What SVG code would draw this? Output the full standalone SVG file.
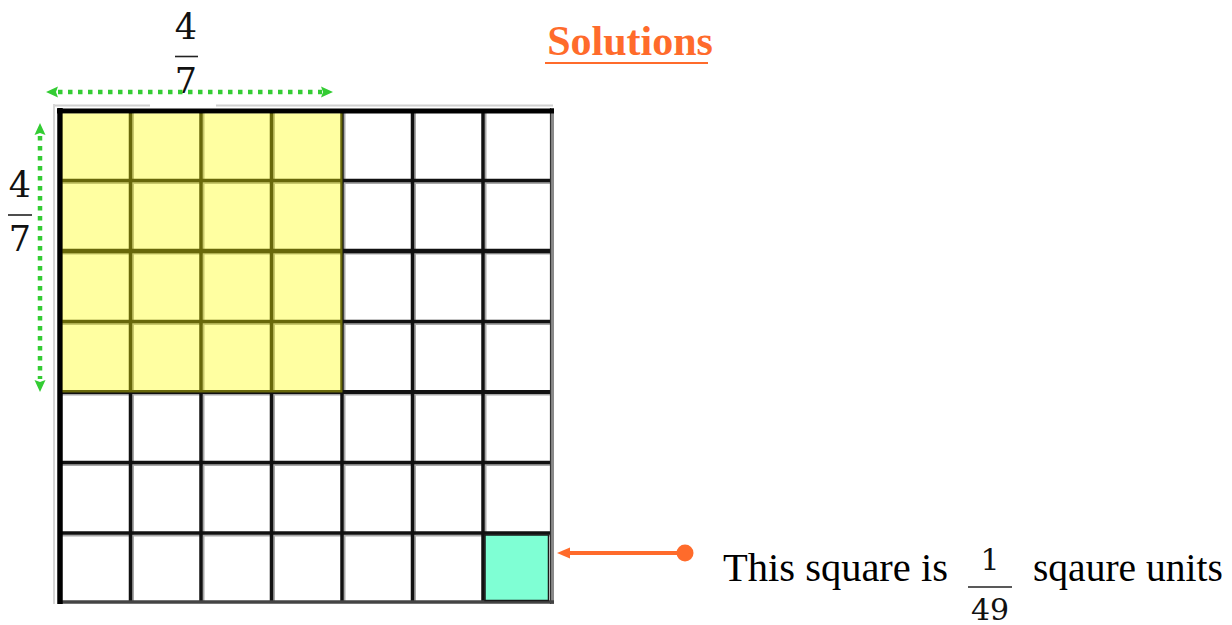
<svg xmlns="http://www.w3.org/2000/svg" width="1232" height="625" viewBox="0 0 1232 625">
  <defs>
    <style>
      .grid { stroke: #111; stroke-width: 3.5; fill: none; }
      .shadow { stroke: #a8a8a8; stroke-width: 2; fill: none; }
      .frac { font-family: "DejaVu Serif", "Liberation Serif", serif; fill: #111; text-anchor: middle; }
      .bar { stroke: #222; stroke-width: 1.6; }
      .txt { font-family: "Liberation Serif", "Times New Roman", serif; font-size: 40.5px; fill: #000; }
      .dim { stroke: #33cc33; stroke-width: 4.5; stroke-dasharray: 4.5 5.5; fill: none; }
      .dimhead { fill: #33cc33; }
      .orange { stroke: #ff6b2b; stroke-width: 4; fill: none; }
    </style>
  </defs>
  <rect width="1232" height="625" fill="#ffffff"/>

  <g id="grid">
    <!-- faint scan artifacts -->
    <line x1="54" y1="104" x2="54" y2="604" stroke="#d6d6d6" stroke-width="2"/>
    <line x1="55" y1="105.5" x2="150" y2="105.5" stroke="#d0d0d0" stroke-width="2"/>
    <line x1="216" y1="105.5" x2="553" y2="105.5" stroke="#d0d0d0" stroke-width="2"/>
    <!-- shadows -->
    <g class="shadow">
      <line x1="133" y1="112" x2="133" y2="603"/>
      <line x1="203.5" y1="112" x2="203.5" y2="603"/>
      <line x1="274" y1="112" x2="274" y2="603"/>
      <line x1="344.5" y1="112" x2="344.5" y2="603"/>
      <line x1="415" y1="112" x2="415" y2="603"/>
      <line x1="485.5" y1="112" x2="485.5" y2="603"/>
      <line x1="62" y1="183" x2="552" y2="183"/>
      <line x1="62" y1="253.5" x2="552" y2="253.5"/>
      <line x1="62" y1="324" x2="552" y2="324"/>
      <line x1="62" y1="394.5" x2="552" y2="394.5"/>
      <line x1="62" y1="465" x2="552" y2="465"/>
      <line x1="62" y1="535.5" x2="552" y2="535.5"/>
    </g>
    <g class="grid">
      <line x1="130.5" y1="110" x2="130.5" y2="603"/>
      <line x1="201" y1="110" x2="201" y2="603"/>
      <line x1="271.5" y1="110" x2="271.5" y2="603"/>
      <line x1="342" y1="110" x2="342" y2="603"/>
      <line x1="412.5" y1="110" x2="412.5" y2="603"/>
      <line x1="483" y1="110" x2="483" y2="603"/>
      <line x1="60" y1="180.5" x2="552" y2="180.5"/>
      <line x1="60" y1="251" x2="552" y2="251" stroke-width="4.5"/>
      <line x1="60" y1="321.5" x2="552" y2="321.5"/>
      <line x1="60" y1="392" x2="552" y2="392" stroke-width="4"/>
      <line x1="60" y1="462.5" x2="552" y2="462.5"/>
      <line x1="60" y1="533" x2="552" y2="533"/>
    </g>
    <!-- outer frame -->
    <line x1="552" y1="108" x2="552" y2="604" stroke="#8a8a8a" stroke-width="4"/>
    <line x1="550.5" y1="108" x2="550.5" y2="604" stroke="#333" stroke-width="1.2"/>
    <line x1="58" y1="602" x2="554" y2="602" stroke="#444" stroke-width="3.5"/>
    <line x1="57" y1="111" x2="554" y2="111" stroke="#000" stroke-width="5"/>
    <line x1="60" y1="108" x2="60" y2="604" stroke="#000" stroke-width="5.5"/>
  </g>

  <g id="shaded-region">
    <rect x="62.5" y="113.5" width="280" height="279" fill="#ffff00" fill-opacity="0.37"/>
  </g>

  <g id="unit-square">
    <rect x="485" y="535" width="63.5" height="65.5" fill="#7fffd4" stroke="#1a1a1a" stroke-width="1.5"/>
  </g>

  <g id="title">
    <text x="630" y="55" text-anchor="middle" font-family="Liberation Serif, Times New Roman, serif" font-weight="bold" font-size="42" fill="#ff6b2b">Solutions</text>
    <line x1="545" y1="63" x2="708" y2="63" stroke="#ff6b2b" stroke-width="2.2"/>
  </g>

  <g id="top-fraction">
    <text class="frac" x="186" y="39" font-size="35">4</text>
    <line class="bar" x1="175" y1="56.5" x2="198" y2="56.5"/>
    <text class="frac" x="186" y="93" font-size="35">7</text>
  </g>

  <g id="left-fraction">
    <text class="frac" x="20" y="197" font-size="35">4</text>
    <line class="bar" x1="8" y1="215" x2="32" y2="215"/>
    <text class="frac" x="20" y="251" font-size="35">7</text>
  </g>

  <g id="label">
    <text class="txt" x="723" y="581">This square is</text>
    <text class="frac" x="990" y="570" font-size="30">1</text>
    <line class="bar" x1="968" y1="587" x2="1012" y2="587"/>
    <text class="frac" x="990" y="620" font-size="30">49</text>
    <text class="txt" x="1033" y="581" font-size="39.5px" style="font-size:39.5px">sqaure units</text>
  </g>

  <g id="connectors">
    <!-- horizontal dimension 4/7 -->
    <line class="dim" x1="58" y1="92" x2="322" y2="92"/>
    <polygon class="dimhead" points="46,92 58,86.5 56,92 58,97.5"/>
    <polygon class="dimhead" points="333,92 321,86.5 323,92 321,97.5"/>
    <!-- vertical dimension 4/7 -->
    <line class="dim" x1="40" y1="136" x2="40" y2="379"/>
    <polygon class="dimhead" points="40,123 34.5,135 40,133 45.5,135"/>
    <polygon class="dimhead" points="40,392 34.5,380 40,382 45.5,380"/>
    <!-- orange pointer -->
    <line class="orange" x1="568" y1="553" x2="685" y2="553"/>
    <polygon points="557,553 570,547.5 570,558.5" fill="#ff6b2b"/>
    <circle cx="685" cy="553" r="8.5" fill="#ff6b2b"/>
  </g>
</svg>
